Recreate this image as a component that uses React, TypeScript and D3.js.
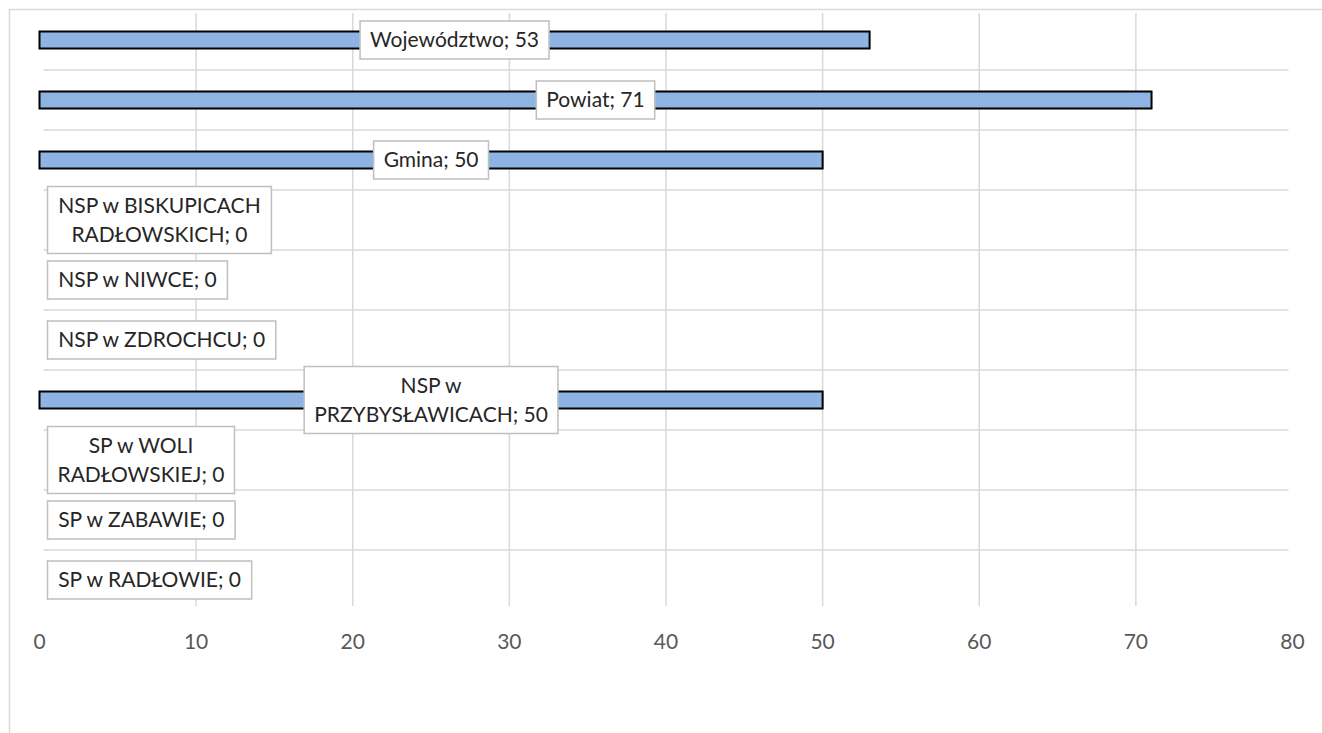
import { useMemo } from "react";
import * as d3 from "d3";

const categories = [
  "Województwo",
  "Powiat",
  "Gmina",
  "NSP w BISKUPICACH RADŁOWSKICH",
  "NSP w NIWCE",
  "NSP w ZDROCHCU",
  "NSP w PRZYBYSŁAWICACH",
  "SP w WOLI RADŁOWSKIEJ",
  "SP w ZABAWIE",
  "SP w RADŁOWIE",
];
const values = [53, 71, 50, 0, 0, 0, 50, 0, 0, 0];
const xTicks = [0, 10, 20, 30, 40, 50, 60, 70, 80];

const W = 1322;
const H = 733;
const FONT = "Lato, 'Open Sans', sans-serif";
const FS = 21;
const LINE_H = 29;
const MAX_LABEL_W = 245;

let ctx: CanvasRenderingContext2D | null = null;
function measure(s: string) {
  if (!ctx) {
    ctx = document.createElement("canvas").getContext("2d");
    if (ctx) ctx.font = `${FS}px Lato`;
  }
  return ctx ? ctx.measureText(s).width : s.length * FS * 0.5;
}

// greedy word wrap, like Excel does for data labels
function wrap(text: string) {
  const words = text.split(" ");
  const lines: string[] = [];
  let cur = "";
  for (const w of words) {
    const next = cur ? cur + " " + w : w;
    if (cur && measure(next) > MAX_LABEL_W) {
      lines.push(cur);
      cur = w;
    } else cur = next;
  }
  if (cur) lines.push(cur);
  return lines;
}

export default function App() {
  const x = d3.scaleLinear().domain([0, 80]).range([39.5, 1292.5]);
  const y = d3.scaleBand<string>().domain(categories).range([10, 610]);
  const barH = 17;

  const labels = useMemo(
    () =>
      categories.map((c, i) => {
        const lines = wrap(`${c}; ${values[i]}`);
        const tw = d3.max(lines, (l) => measure(l)) || 0;
        const bw = tw + 20;
        const bh = lines.length * LINE_H + 9;
        const cx = values[i] > 0 ? x(values[i] / 2) : x(0) + 8 + bw / 2;
        const cy = (y(c) || 0) + y.bandwidth() / 2;
        return { lines, bw, bh, cx, cy };
      }),
    []
  );

  return (
    <svg
      width={W}
      height={H}
      style={{ position: "absolute", left: 0, top: 0, background: "#fff" }}
      fontFamily={FONT}
    >
      {/* chart border (cut off at right and bottom) */}
      <path d={`M9.5,${H}V9.5H${W}`} fill="none" stroke="#D9D9D9" strokeWidth={1.5} />

      {xTicks.filter((t) => t > 0 && t < 80).map((t) => (
        <line key={t} x1={x(t)} x2={x(t)} y1={13} y2={606} stroke="#D9D9D9" strokeWidth={1.5} />
      ))}
      {categories.slice(1).map((c) => (
        <line key={c} x1={x(0) + 4} x2={x(80) - 4} y1={y(c)} y2={y(c)} stroke="#D9D9D9" strokeWidth={1.5} />
      ))}

      {categories.map((c, i) =>
        values[i] > 0 ? (
          <rect
            key={c}
            x={x(0)}
            y={(y(c) || 0) + y.bandwidth() / 2 - barH / 2}
            width={x(values[i]) - x(0)}
            height={barH}
            fill="#8EB4E3"
            stroke="#000"
            strokeWidth={2}
          />
        ) : null
      )}

      {labels.map((l, i) => (
        <g key={i}>
          <rect
            x={l.cx - l.bw / 2}
            y={l.cy - l.bh / 2}
            width={l.bw}
            height={l.bh}
            fill="#fff"
            stroke="#BFBFBF"
            strokeWidth={1.5}
          />
          {l.lines.map((s, k) => (
            <text
              key={k}
              x={l.cx}
              y={l.cy - ((l.lines.length - 1) * LINE_H) / 2 + k * LINE_H}
              dy="0.35em"
              textAnchor="middle"
              fontSize={FS}
              fill="#262626"
            >
              {s}
            </text>
          ))}
        </g>
      ))}

      {xTicks.map((t) => (
        <text key={t} x={x(t)} y={642} dy="0.35em" textAnchor="middle" fontSize={FS} fill="#595959">
          {t}
        </text>
      ))}
    </svg>
  );
}
